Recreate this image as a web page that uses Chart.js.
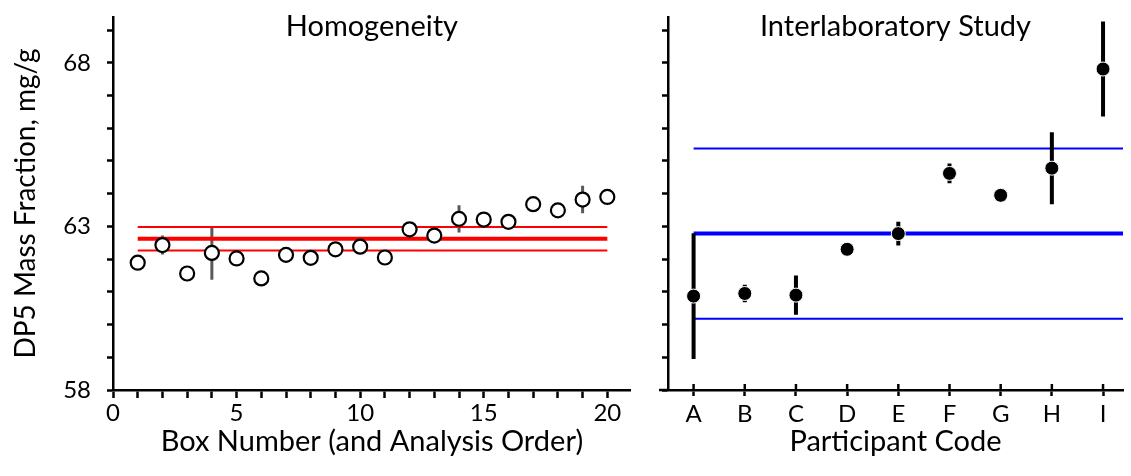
<!DOCTYPE html>
<html>
<head>
<meta charset="utf-8">
<script src="https://cdn.jsdelivr.net/npm/chart.js@4/dist/chart.umd.min.js"></script>
<style>
  html, body { margin: 0; padding: 0; background: #fff; }
  #left { position: absolute; left: 0; top: 0; width: 640px; height: 476px; }
  #right { position: absolute; left: 640px; top: 0; width: 491px; height: 476px; }
</style>
</head>
<body>
<div id="left"><canvas id="homChart"></canvas></div>
<div id="right"><canvas id="labChart"></canvas></div>
<script>
// homogeneity panel
const boxNumbers = [1, 2, 3, 4, 5, 6, 7, 8, 9, 10, 11, 12, 13, 14, 15, 16, 17, 18, 19, 20];
const homValues = [61.89, 62.43, 61.56, 62.19, 62.02, 61.41, 62.13, 62.04, 62.30, 62.38,
                   62.05, 62.91, 62.72, 63.23, 63.21, 63.14, 63.68, 63.49, 63.82, 63.90];
const homErrors = [0, 0.29, 0, 0.82, 0, 0, 0, 0, 0, 0,
                   0, 0, 0, 0.42, 0, 0, 0, 0, 0.42, 0];
const homMean = 62.62;
const homBand = 0.36;
const homXTicks = [0, 1, 2, 3, 4, 5, 6, 7, 8, 9, 10, 11, 12, 13, 14, 15, 16, 17, 18, 19, 20];

// interlaboratory panel
const labCodes = ['A', 'B', 'C', 'D', 'E', 'F', 'G', 'H', 'I'];
const labValues = [60.87, 60.95, 60.90, 62.30, 62.78, 64.62, 63.95, 64.78, 67.81];
const labErrors = [1.92, 0.27, 0.60, 0, 0.36, 0.30, 0, 1.10, 1.45];
const labMean = 62.78;
const labBand = 2.60;

const yTicks = [58, 59, 60, 61, 62, 63, 64, 65, 66, 67, 68, 69];
const yLabelled = [58, 63, 68];

const FONT = 'Lato, "Open Sans", sans-serif';

function errorBarData(xs, ys, errs) {
    const pts = [];
    xs.forEach((x, i) => {
        if (!errs[i]) return;
        pts.push({ x: x, y: ys[i] - errs[i] });
        pts.push({ x: x, y: ys[i] + errs[i] });
        pts.push({ x: x, y: null });
    });
    return pts;
}

function hLine(x0, x1, y) {
    return [{ x: x0, y: y }, { x: x1, y: y }];
}

// panel title drawn inside the plot area, centred on it
const panelTitle = {
    id: 'panelTitle',
    afterDraw(chart, args, opts) {
        const { ctx, chartArea } = chart;
        ctx.save();
        ctx.font = '29px ' + FONT;
        ctx.fillStyle = '#000';
        ctx.textAlign = 'center';
        ctx.textBaseline = 'middle';
        ctx.fillText(opts.text, (chartArea.left + chartArea.right) / 2, opts.y);
        ctx.restore();
    }
};

// x ticks of the right panel cross the axis line, and the axis pokes out left
const crossTicks = {
    id: 'crossTicks',
    afterDraw(chart, args, opts) {
        if (!opts.enabled) return;
        const { ctx } = chart;
        const xs = chart.scales.x;
        ctx.save();
        ctx.strokeStyle = '#000';
        ctx.lineWidth = 2.5;
        xs.ticks.forEach(t => {
            const px = xs.getPixelForValue(t.value);
            ctx.beginPath();
            ctx.moveTo(px, xs.top);
            ctx.lineTo(px, xs.top - 6);
            ctx.stroke();
        });
        ctx.beginPath();
        ctx.moveTo(xs.left - 9, xs.top);
        ctx.lineTo(xs.left, xs.top);
        ctx.stroke();
        ctx.restore();
    }
};

function yScale(showLabels, width) {
    return {
        min: 58,
        max: 69.4,
        afterBuildTicks: s => { s.ticks = yTicks.map(v => ({ value: v })); },
        afterFit: s => { s.width = width; s.paddingTop = 0; s.paddingBottom = 0; },
        ticks: {
            color: '#000',
            font: { family: FONT, size: 24 },
            padding: 16,
            callback: v => (showLabels && yLabelled.includes(v)) ? v : ''
        },
        grid: { drawOnChartArea: false, color: '#000', tickLength: 6, tickWidth: 2.5 },
        border: { color: '#000', width: 2.5 },
        title: {
            display: showLabels,
            text: 'DP5 Mass Fraction, mg/g',
            color: '#000',
            font: { family: FONT, size: 28 },
            padding: { top: 9, bottom: 0 }
        }
    };
}

function xTitle(text) {
    return {
        display: true,
        text: text,
        color: '#000',
        font: { family: FONT, size: 29 },
        padding: { top: 0, bottom: 17 }
    };
}

const common = {
    responsive: true,
    maintainAspectRatio: false,
    animation: false,
    events: [],
    plugins: { legend: { display: false }, tooltip: { enabled: false } }
};

new Chart(document.querySelector('#homChart'), {
    type: 'scatter',
    data: {
        datasets: [
            {
                data: boxNumbers.map((x, i) => ({ x: x, y: homValues[i] })),
                pointRadius: 7,
                pointBorderWidth: 2.2,
                pointBorderColor: '#000',
                pointBackgroundColor: '#fff'
            },
            {
                data: hLine(1, 20, homMean),
                showLine: true, pointRadius: 0, borderColor: '#ff0000', borderWidth: 4
            },
            {
                data: hLine(1, 20, homMean + homBand),
                showLine: true, pointRadius: 0, borderColor: '#ff0000', borderWidth: 2
            },
            {
                data: hLine(1, 20, homMean - homBand),
                showLine: true, pointRadius: 0, borderColor: '#ff0000', borderWidth: 2
            },
            {
                data: errorBarData(boxNumbers, homValues, homErrors),
                showLine: true, spanGaps: false, pointRadius: 0,
                borderColor: '#595959', borderWidth: 3
            }
        ]
    },
    options: {
        ...common,
        layout: { padding: { top: 17, right: 5, left: 0, bottom: 0 } },
        scales: {
            x: {
                type: 'linear',
                min: 0,
                max: 20.95,
                afterBuildTicks: s => { s.ticks = homXTicks.map(v => ({ value: v })); },
                afterFit: s => { s.height = 86; s.paddingLeft = 0; s.paddingRight = 0; },
                ticks: {
                    color: '#000',
                    font: { family: FONT, size: 24 },
                    padding: 1,
                    maxRotation: 0,
                    autoSkip: false,
                    callback: v => (v % 5 === 0) ? v : ''
                },
                grid: { drawOnChartArea: false, color: '#000', tickLength: 8, tickWidth: 2.5 },
                border: { color: '#000', width: 2.5 },
                title: xTitle('Box Number (and Analysis Order)')
            },
            y: yScale(true, 113)
        },
        plugins: { ...common.plugins, panelTitle: { text: 'Homogeneity', y: 27 }, crossTicks: { enabled: false } }
    },
    plugins: [panelTitle, crossTicks]
});

const labX = labCodes.map((c, i) => i + 1);

new Chart(document.querySelector('#labChart'), {
    type: 'scatter',
    data: {
        datasets: [
            {
                data: labX.map((x, i) => ({ x: x, y: labValues[i] })),
                pointRadius: 7,
                pointBorderWidth: 1,
                pointBorderColor: '#fff',
                pointBackgroundColor: '#000'
            },
            {
                data: errorBarData(labX, labValues, labErrors),
                showLine: true, spanGaps: false, pointRadius: 0,
                borderColor: '#000', borderWidth: 4
            },
            {
                data: hLine(1, 9.39, labMean),
                showLine: true, pointRadius: 0, borderColor: '#0000ff', borderWidth: 4
            },
            {
                data: hLine(1, 9.39, labMean + labBand),
                showLine: true, pointRadius: 0, borderColor: '#0000ff', borderWidth: 2
            },
            {
                data: hLine(1, 9.39, labMean - labBand),
                showLine: true, pointRadius: 0, borderColor: '#0000ff', borderWidth: 2
            }
        ]
    },
    options: {
        ...common,
        layout: { padding: { top: 17, right: 0, left: 0, bottom: 0 } },
        scales: {
            x: {
                type: 'linear',
                min: 0.5,
                max: 9.39,
                afterBuildTicks: s => { s.ticks = labX.map(v => ({ value: v })); },
                afterFit: s => { s.height = 86; s.paddingLeft = 0; s.paddingRight = 0; },
                ticks: {
                    color: '#000',
                    font: { family: FONT, size: 24 },
                    padding: 4,
                    maxRotation: 0,
                    autoSkip: false,
                    callback: v => labCodes[v - 1]
                },
                grid: { drawOnChartArea: false, color: '#000', tickLength: 6, tickWidth: 2.5 },
                border: { color: '#000', width: 2.5 },
                title: xTitle('Participant Code')
            },
            y: yScale(false, 28)
        },
        plugins: { ...common.plugins, panelTitle: { text: 'Interlaboratory Study', y: 27 }, crossTicks: { enabled: true } }
    },
    plugins: [panelTitle, crossTicks]
});
</script>
</body>
</html>
